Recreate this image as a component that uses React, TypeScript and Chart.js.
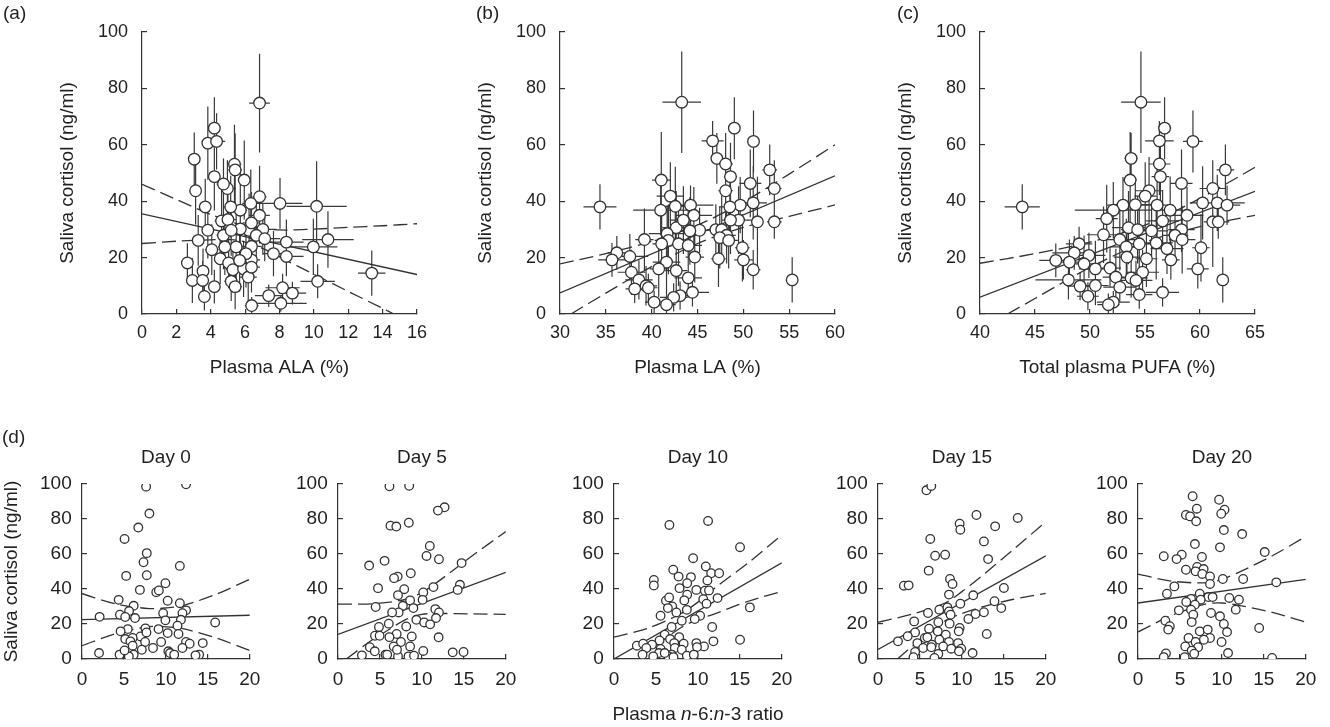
import React, { useEffect, useRef } from 'react';
import { Chart, registerables } from 'chart.js';

Chart.register(...registerables);

const FONT = '"Liberation Sans", Arial, Helvetica, sans-serif';
const INK = '#231f20';
const MARK = '#333';

// ---------- (a) plasma ALA ----------
const alaX = [6.84, 4.21, 3.83, 4.34, 3.04, 5.38, 5.42, 4.21, 5.95, 4.97, 3.12, 4.74, 6.84, 8.03, 10.16, 3.68, 6.33, 5.72, 5.16, 6.84, 4.63, 5.0, 7.03, 3.83, 6.23, 5.72, 6.65, 7.14, 4.74, 3.27, 8.4, 10.82, 5.48, 4.06, 6.37, 9.97, 7.65, 8.4, 4.55, 6.37, 2.64, 5.04, 3.55, 5.29, 5.91, 13.37, 2.93, 10.22, 3.53, 5.19, 6.18, 4.21, 5.42, 8.18, 7.37, 8.75, 3.63, 6.38, 8.08, 6.37, 5.19, 6.05, 4.82, 5.68, 6.37];
const alaY = [74.8, 65.9, 60.6, 61.2, 54.9, 53.1, 51.1, 48.7, 47.5, 44.5, 43.7, 46.1, 41.6, 39.2, 38.2, 38, 39.2, 36.8, 38, 35, 33, 33.5, 30, 29.7, 29.7, 30.2, 27.9, 26.7, 27.9, 26.1, 25.5, 26.4, 23.8, 22.8, 24, 23.8, 21.4, 20.4, 19.6, 19.2, 18.1, 18.1, 15.2, 15.7, 16, 14.5, 11.9, 11.6, 11.9, 11.6, 13.1, 9.7, 9.7, 9.3, 6.5, 7.4, 6.2, 3.0, 3.8, 32.3, 29.7, 21.4, 23.8, 19, 16.6];
const alaXErr = [0.6, 0.3, 0.3, 0.5, 0.2, 0.4, 0.4, 0.3, 0.3, 0.5, 0.2, 0.4, 0.4, 1.3, 1.75, 0.3, 0.5, 0.4, 0.4, 0.6, 0.4, 0.5, 0.8, 0.3, 0.5, 0.4, 0.7, 0.9, 0.4, 0.3, 1.0, 1.5, 0.5, 0.4, 0.6, 1.4, 0.6, 1.0, 0.3, 0.5, 0.2, 0.4, 0.3, 0.4, 0.5, 0.8, 0.2, 1.0, 0.3, 0.4, 0.5, 0.3, 0.4, 1.0, 0.8, 0.8, 0.3, 0.4, 1.5, 0.5, 0.5, 0.4, 0.4, 0.4, 0.5];
const alaYErr = [17.5, 11, 13, 10, 9.5, 14, 13, 12, 14, 10, 12, 9, 11, 9, 16, 10, 12, 15, 11, 10, 12, 10, 9, 10, 13, 12, 11, 8, 12, 9, 8, 10, 14, 9, 12, 10, 8, 7, 9, 10, 7, 9, 8, 8, 10, 8, 8, 6, 7, 7, 9, 6, 8, 5, 4, 4, 5, 3, 3, 11, 9, 12, 10, 11, 9];
const alaFitX = [0, 16];
const alaFitY = [35.5, 14];
const alaUpX = [0, 2, 4, 6, 8, 10, 12, 14, 16];
const alaUpY = [46, 40.6, 35.3, 31.2, 29.8, 30.1, 30.7, 31.3, 32];
const alaLoX = [0, 2, 4, 5.5, 7, 8, 10, 12, 14, 14.65];
const alaLoY = [25, 25.8, 26.3, 26.2, 23.3, 20.2, 14.1, 8, 2, 0];

// ---------- (b) plasma LA ----------
const laX = [43.28, 49.02, 46.65, 51.11, 47.11, 48.07, 52.88, 48.6, 41.05, 50.76, 53.38, 48.07, 42.04, 34.36, 51.08, 49.66, 44.24, 42.58, 40.98, 48.53, 44.6, 49.48, 51.54, 53.38, 48.6, 42.68, 45.23, 47.0, 47.64, 41.69, 44.17, 48.18, 47.43, 39.21, 41.83, 42.93, 43.99, 41.09, 49.9, 36.2, 35.67, 37.62, 44.7, 47.29, 50.01, 41.62, 40.77, 51.08, 37.79, 42.68, 38.61, 55.33, 43.99, 39.39, 38.15, 44.45, 43.1, 42.4, 40.27, 41.62, 39.64, 48.4, 43.46];
const laY = [75.1, 65.9, 61.4, 61.2, 55.2, 53.2, 51.1, 48.7, 47.5, 46.3, 44.5, 43.7, 41.8, 38, 39.4, 38.6, 38.6, 38.2, 36.8, 38, 35, 33.3, 32.7, 32.7, 33.3, 30.6, 29.7, 29.9, 29.9, 28.5, 29.5, 27.9, 27.1, 26.4, 26.1, 24.9, 24.3, 24.9, 23.5, 21.7, 19.2, 20.4, 20.2, 19.6, 19.2, 18.4, 16, 15.7, 14.8, 15.4, 12.1, 12.1, 12.8, 10, 8.9, 7.7, 6.5, 5.9, 4.2, 3.3, 9.3, 26.1, 33.3];
const laXErr = [2.1, 0.6, 1.2, 0.5, 0.6, 0.8, 0.8, 0.7, 1.0, 1.2, 0.8, 0.8, 1.5, 1.8, 1.5, 1.0, 2.5, 2.0, 3.0, 1.2, 2.0, 1.5, 0.6, 0.8, 1.0, 1.5, 1.5, 1.0, 1.0, 2.0, 1.2, 1.0, 0.6, 1.0, 1.5, 1.5, 1.5, 1.0, 0.8, 1.0, 1.5, 2.0, 1.0, 0.8, 1.0, 1.5, 1.0, 0.8, 1.5, 1.2, 1.5, 0.3, 1.5, 1.2, 1.0, 1.8, 1.2, 1.5, 1.0, 1.0, 1.0, 1.0, 1.5];
const laYErr = [18, 11, 7, 11, 9, 11, 9, 12, 17, 12, 10, 12, 12, 8, 13, 10, 7, 14, 9, 10, 10, 12, 16, 6, 12, 13, 8, 9, 12, 10, 12, 10, 11, 11, 12, 15, 13, 10, 12, 6, 6, 8, 9, 10, 7, 12, 10, 7, 8, 10, 7, 8, 7, 7, 5, 5, 5, 5, 4, 4, 5, 10, 12];
const laFitX = [30, 60];
const laFitY = [7.5, 49];
const laUpX = [30, 35, 40, 45, 50, 55, 60];
const laUpY = [17.8, 21.4, 25.8, 31.5, 39.7, 49.6, 60];
const laLoX = [31.2, 35, 40, 45, 50, 55, 60];
const laLoY = [0, 7.4, 16.8, 25, 30.7, 34.6, 38.7];

// ---------- (c) total plasma PUFA ----------
const pufaX = [54.63, 56.78, 56.31, 59.36, 53.74, 56.31, 62.31, 56.4, 53.65, 58.32, 61.16, 55.37, 55.02, 43.84, 60.24, 61.57, 62.46, 56.1, 54.12, 53.0, 52.12, 57.29, 58.82, 51.52, 56.6, 61.16, 61.66, 53.5, 58.32, 55.6, 54.33, 51.23, 57.73, 52.71, 58.38, 54.48, 56.02, 53.3, 60.09, 49.01, 57.0, 48.57, 49.9, 53.36, 55.13, 57.35, 46.89, 48.13, 49.46, 50.49, 51.82, 59.8, 54.78, 48.04, 62.07, 53.74, 52.35, 54.18, 49.1, 50.49, 52.71, 56.6, 54.48, 49.81, 52.12, 51.67];
const pufaY = [75.1, 65.9, 61.4, 61.2, 55.2, 53.2, 51.1, 48.7, 47.5, 46.3, 44.5, 43.7, 41.8, 38, 39.4, 39.4, 38.6, 38.6, 38.8, 38.6, 36.8, 36.8, 35, 33.8, 33, 32.7, 32.7, 30.6, 29.9, 29.5, 29.9, 28.1, 27.9, 26.4, 26.4, 24.9, 25.2, 23.8, 23.5, 24.9, 23.2, 21.7, 20.8, 20.2, 19.6, 19.2, 19, 18.4, 17.8, 16, 16.3, 16, 14.8, 12.1, 12.1, 12.8, 13.1, 11.9, 9.9, 10.1, 9.5, 7.7, 6.9, 6.3, 4.2, 3.3];
const pufaXErr = [1.8, 0.6, 1.3, 0.9, 0.6, 1.0, 0.8, 0.8, 0.6, 1.0, 1.2, 1.2, 1.0, 1.6, 1.0, 2.5, 1.2, 1.5, 2.0, 1.5, 3.5, 1.2, 1.5, 1.0, 1.5, 0.8, 1.0, 1.5, 1.2, 1.5, 1.5, 1.5, 1.2, 1.5, 1.2, 1.5, 1.5, 1.5, 0.8, 1.2, 1.5, 2.0, 1.5, 1.2, 1.0, 0.8, 1.5, 1.5, 1.5, 1.5, 1.0, 1.0, 1.5, 3.0, 0.3, 1.5, 1.2, 1.5, 1.2, 1.2, 1.5, 1.5, 1.2, 1.0, 1.5, 1.0];
const pufaYErr = [18, 11, 7, 11, 9, 11, 9, 12, 17, 12, 10, 12, 12, 8, 13, 10, 7, 14, 9, 10, 10, 12, 10, 12, 11, 16, 6, 13, 8, 9, 12, 10, 10, 11, 12, 15, 13, 10, 12, 6, 9, 6, 8, 9, 10, 7, 6, 8, 10, 10, 7, 7, 8, 7, 8, 7, 10, 7, 5, 7, 5, 5, 5, 5, 4, 4];
const pufaFitX = [40, 65];
const pufaFitY = [6, 43.5];
const pufaUpX = [40, 45, 50, 55, 60, 65];
const pufaUpY = [18, 21.4, 25.5, 31.5, 41, 52];
const pufaLoX = [42.5, 45, 50, 55, 60, 65];
const pufaLoY = [0, 5.5, 16.5, 25.5, 31, 35];

// ---------- (d) n-6:n-3 ratio by day ----------
const ciX = [0, 4, 8, 10, 12, 16, 20];
const ratioFitX = [0, 20];

const day0X = [12.4, 7.64, 8.03, 6.71, 5.07, 7.72, 7.33, 11.66, 5.26, 7.72, 9.94, 6.9, 8.85, 9.16, 4.37, 10.21, 11.66, 6.16, 5.61, 12.4, 11.97, 9.67, 4.52, 2.1, 5.15, 6.32, 9.94, 11.79, 15.87, 11.38, 7.56, 9.12, 5.46, 4.6, 6.98, 7.68, 10.21, 11.5, 5.15, 6.04, 5.77, 7.52, 9.43, 12.4, 12.83, 14.39, 6.04, 8.46, 11.97, 7.13, 10.29, 10.49, 2.03, 10.99, 4.48, 6.16, 5.58, 13.96, 13.53, 5.07];
const day0Y = [99.8, 98.5, 83.1, 75.1, 68.6, 60.5, 55.3, 53.2, 47.5, 47.9, 43.3, 39.5, 38.2, 39.2, 33.8, 33.3, 31.9, 30.4, 27.4, 27.8, 26.2, 26.2, 25.3, 24.1, 24, 23.4, 22.1, 22.4, 20.9, 19, 17.5, 17.1, 17.1, 15.8, 12.9, 15.2, 14.8, 14.3, 11.4, 12, 10.1, 9.7, 9.7, 9.7, 8.7, 9.1, 7.6, 6.3, 6.3, 5.3, 4.4, 3.4, 3.4, 2.5, 2.5, 2.5, 1.5, 2.5, 2.1, 4.9];
const day0FitY = [22.5, 25];
const day0UpY = [37.3, 31.5, 28.8, 29.2, 30.5, 37, 45.6];
const day0LoY = [7.6, 14.5, 18.5, 18.4, 17.4, 12, 4.8];

const day5X = [6.13, 8.48, 12.7, 11.91, 6.25, 6.95, 8.44, 10.94, 10.55, 12.03, 5.55, 3.71, 14.73, 8.67, 7.11, 6.68, 4.77, 7.89, 11.37, 14.53, 14.26, 10.16, 7.15, 10.08, 8.59, 7.73, 4.49, 8.98, 7.23, 6.45, 11.6, 12.03, 11.68, 9.34, 10.27, 10.98, 6.05, 4.88, 8.13, 4.41, 6.99, 8.79, 6.13, 11.99, 4.96, 7.5, 8.59, 3.79, 6.64, 5.66, 2.85, 7.15, 8.4, 9.06, 10.16, 13.67, 14.96, 4.38, 5.86, 7.03];
const day5Y = [98.7, 99, 86.7, 84.8, 76.2, 75.7, 77.9, 64.6, 58.9, 57, 56.1, 53.4, 54.8, 49, 47.1, 46.2, 40.5, 39.9, 41.1, 42.4, 39.5, 38, 36.5, 33.8, 33.5, 30.4, 29.7, 29.1, 26.6, 26.6, 28.5, 26.6, 23.4, 22.4, 20.9, 19.8, 20.2, 18.3, 18.6, 13.3, 14.3, 12.9, 12.5, 12.4, 13.3, 9.7, 7.2, 6.7, 7.2, 2.5, 2.1, 1.5, 1.5, 1.9, 4.6, 3.8, 4, 4.4, 2.5, 5.3];
const day5FitY = [14, 49.5];
const day5UpY = [31.4, 31.5, 34, 38, 44.5, 59, 72.8];
const day5LoX = [1, 4, 6, 8, 10, 12, 16, 20];
const day5LoY = [0, 10.7, 16.6, 22.4, 25.5, 26, 25.8, 25.5];

const day10X = [6.6, 11.21, 15.02, 9.43, 10.94, 7.06, 11.58, 12.53, 7.7, 9.17, 4.75, 8.72, 11.13, 4.75, 7.81, 9.81, 10.83, 11.32, 8.72, 12.34, 10.64, 6.19, 8.38, 6.57, 11.02, 6.94, 6.42, 16.19, 8.68, 7.43, 5.55, 10.26, 9.62, 8.08, 11.7, 6.87, 15.02, 11.85, 6.04, 7.77, 6.68, 5.43, 2.72, 3.47, 4.53, 7.17, 8.3, 9.81, 10.72, 9.89, 3.85, 5.55, 7.25, 8.08, 5.36, 3.4, 6.87, 8.68, 9.51, 4.68, 6.49, 7.09, 6.04];
const day10Y = [76.6, 78.9, 63.9, 57.6, 52.9, 51, 49, 49, 47.1, 46.8, 45.2, 43.3, 44.9, 42, 40.5, 39.5, 39, 39.2, 36.7, 34.8, 34.2, 33.3, 33.5, 35.2, 31.6, 30, 29.1, 29.5, 28.1, 26.6, 24.7, 24.7, 22.8, 21.9, 18.3, 18.3, 11, 10.1, 13.9, 12.5, 11.4, 10.6, 7.6, 8.7, 8.2, 9.1, 8.7, 9.1, 7.2, 6.8, 6.3, 5.7, 6.3, 5.3, 3.4, 2.5, 2.5, 1.9, 2.5, 1.5, 1.5, 1.1, 3.4];
const day10FitY = [0, 55];
const day10UpY = [12.5, 17.5, 26, 32.5, 40.5, 55, 70.9];
const day10LoX = [3.2, 4, 8, 10, 12, 16, 20];
const day10LoY = [0, 4, 18, 22.5, 25.8, 33, 38.6];

const day15X = [5.77, 6.35, 11.73, 16.65, 9.73, 9.81, 13.96, 6.23, 12.62, 6.81, 8.0, 13.12, 6.04, 8.58, 8.88, 3.08, 3.65, 15, 11.35, 8.46, 9.81, 13.88, 7.31, 8.27, 8.46, 14.69, 5.96, 8.65, 11.62, 12.62, 10.77, 4.31, 7.19, 8.54, 6.08, 9.73, 9.62, 4.42, 7.12, 8.08, 12.96, 3.54, 5.58, 5.88, 7.31, 2.38, 8.46, 4.69, 6.42, 9.54, 7.77, 5.38, 8.73, 9.92, 6.35, 4.42, 9.65, 11.27, 7.19, 4.23, 6.73];
const day15Y = [96.4, 98.9, 82.3, 80.6, 77.3, 73.9, 75.8, 68.6, 67.2, 59, 59.6, 57.1, 50.5, 45.7, 42.9, 41.9, 42.1, 40.6, 36.4, 36.8, 31.6, 33, 28.2, 29.5, 27.2, 29.1, 26.3, 25.3, 25.7, 26.7, 22.9, 21.5, 21, 20.2, 17.3, 17.7, 15.8, 15.2, 15.8, 13.9, 14.3, 13, 12, 12.4, 11, 10.1, 9.7, 9.1, 8.2, 9.1, 7.2, 6.3, 5.9, 5.9, 6.7, 4, 4.4, 3.4, 2.9, 1, 0.6];
const day15FitY = [5.5, 59];
const day15UpY = [21, 25.5, 32, 38.5, 46, 62, 78.5];
const day15LoX = [2.3, 4, 8, 10, 12, 16, 20];
const day15LoY = [0, 6.9, 21.8, 26, 29.2, 34, 37.5];

const day20X = [6.51, 9.66, 7.01, 10.31, 9.92, 5.71, 6.21, 6.93, 10.23, 12.41, 9.77, 6.78, 3.07, 5.21, 7.62, 4.6, 15.1, 7.05, 7.82, 5.71, 6.86, 7.66, 8.58, 10.11, 12.53, 16.48, 8.58, 4.33, 3.45, 7.36, 8.39, 8.89, 6.32, 7.47, 10.88, 12.03, 5.75, 6.78, 11.65, 4.87, 6.32, 8.7, 6.59, 9.77, 3.26, 6.4, 10.23, 3.79, 3.6, 14.44, 7.36, 8.31, 10.61, 6.02, 8.58, 7.85, 6.86, 9.96, 5.63, 7.16, 6.4, 6.7, 3.33, 10.73, 3.07, 5.56, 15.98];
const day20Y = [93, 91, 85.9, 85.3, 83, 82.3, 81.5, 78.7, 73.7, 71.4, 63.8, 65.7, 58.7, 59.6, 58.3, 57.1, 61.1, 52.6, 51.4, 51, 50.1, 48.6, 47.2, 45.7, 45.7, 43.8, 42.9, 41.5, 37.3, 37.3, 35.4, 35.4, 34.3, 33.9, 34.9, 33.9, 32.6, 31, 28.2, 27.8, 28.2, 26.3, 25.3, 24.4, 21.9, 21.1, 20, 18.7, 16.8, 17.7, 15.8, 16.8, 15.4, 12, 12, 11, 9.7, 9.7, 7.2, 6.7, 4.8, 3, 3.2, 3.4, 1.1, 1, 0.6];
const day20FitY = [32, 45.5];
const day20UpY = [48.5, 44.5, 43.5, 45.5, 49.5, 59, 70];
const day20LoY = [15.5, 24.9, 31.3, 32, 30.7, 26.6, 21];

// ---------- helpers ----------
type Pt = { x: number; y: number; xe?: number; ye?: number };

const zip = (xs: number[], ys: number[], xe?: number[], ye?: number[]): Pt[] =>
  xs.map((x, i) => ({ x, y: ys[i], xe: xe ? xe[i] : 0, ye: ye ? ye[i] : 0 }));

// draws x / y error bars of the first dataset, under the markers
const errorBars = {
  id: 'errorBars',
  beforeDatasetsDraw(chart: any) {
    const { ctx, chartArea: a, scales } = chart;
    const sx = scales.x;
    const sy = scales.y;
    const pts = chart.data.datasets[0].data as Pt[];
    ctx.save();
    ctx.beginPath();
    ctx.rect(a.left, a.top, a.right - a.left, a.bottom - a.top);
    ctx.clip();
    ctx.strokeStyle = '#3a3a3a';
    ctx.lineWidth = 1.2;
    ctx.beginPath();
    pts.forEach((p) => {
      const px = sx.getPixelForValue(p.x);
      const py = sy.getPixelForValue(p.y);
      if (p.xe) {
        ctx.moveTo(sx.getPixelForValue(p.x - p.xe), py);
        ctx.lineTo(sx.getPixelForValue(p.x + p.xe), py);
      }
      if (p.ye) {
        ctx.moveTo(px, sy.getPixelForValue(p.y - p.ye));
        ctx.lineTo(px, sy.getPixelForValue(p.y + p.ye));
      }
    });
    ctx.stroke();
    ctx.restore();
  },
};

// day headings and the italic x title of panel (d)
const panelText = {
  id: 'panelText',
  afterDraw(chart: any, _args: any, opts: any) {
    const { ctx, chartArea: a } = chart;
    const cx = (a.left + a.right) / 2;
    ctx.save();
    ctx.fillStyle = INK;
    ctx.textBaseline = 'middle';
    if (opts.heading) {
      ctx.font = `19px ${FONT}`;
      ctx.textAlign = 'center';
      ctx.fillText(opts.heading, cx, opts.headingY);
    }
    if (opts.rich) {
      const segs = opts.rich as [string, boolean][];
      const f = (it: boolean) => `${it ? 'italic ' : ''}19px ${FONT}`;
      let total = 0;
      segs.forEach(([t, it]) => {
        ctx.font = f(it);
        total += ctx.measureText(t).width;
      });
      let x = cx - total / 2;
      ctx.textAlign = 'left';
      segs.forEach(([t, it]) => {
        ctx.font = f(it);
        ctx.fillText(t, x, opts.richY);
        x += ctx.measureText(t).width;
      });
    }
    ctx.restore();
  },
};

type Spec = {
  left: number;
  top: number;
  width: number;
  height: number;
  pts: Pt[];
  fit: Pt[];
  upper: Pt[];
  lower: Pt[];
  xMin: number;
  xMax: number;
  xStep: number;
  radius: number;
  yAxisW: number;
  xAxisH: number;
  padTop: number;
  padRight: number;
  tickFont: number;
  xTickPad: number;
  yTickPad: number;
  yTitle?: string;
  yTitlePad: number;
  xTitle?: string;
  xTitlePad: number;
  heading?: string;
  headingY?: number;
  rich?: [string, boolean][];
  richY?: number;
};

const makeConfig = (s: Spec): any => {
  const lineDs = (data: Pt[], dashed: boolean) => ({
    data,
    showLine: true,
    pointRadius: 0,
    pointHoverRadius: 0,
    borderColor: MARK,
    borderWidth: 1.3,
    borderDash: dashed ? [14, 6] : [],
    tension: dashed ? 0.3 : 0,
    fill: false,
  });
  const axisCommon = {
    type: 'linear',
    grid: { display: true, drawOnChartArea: false, drawTicks: true, tickLength: -5, color: MARK, lineWidth: 1.2 },
    border: { display: true, color: MARK, width: 1.2 },
  };
  return {
    type: 'scatter',
    data: {
      datasets: [
        {
          data: s.pts,
          pointRadius: s.radius,
          pointHoverRadius: s.radius,
          pointBackgroundColor: '#fff',
          pointBorderColor: MARK,
          pointBorderWidth: 1.3,
        },
        lineDs(s.fit, false),
        lineDs(s.upper, true),
        lineDs(s.lower, true),
      ],
    },
    options: {
      responsive: false,
      animation: false,
      events: [],
      layout: { padding: { top: s.padTop, right: s.padRight, left: 0, bottom: 0 } },
      plugins: {
        legend: { display: false },
        tooltip: { enabled: false },
        panelText: { heading: s.heading, headingY: s.headingY, rich: s.rich, richY: s.richY },
      },
      scales: {
        x: {
          ...axisCommon,
          position: 'bottom',
          min: s.xMin,
          max: s.xMax,
          ticks: { stepSize: s.xStep, autoSkip: false, maxRotation: 0, color: INK, padding: s.xTickPad, font: { family: FONT, size: s.tickFont } },
          title: {
            display: !!s.xTitle,
            text: s.xTitle,
            color: INK,
            font: { family: FONT, size: 19 },
            padding: { top: 0, bottom: s.xTitlePad },
          },
          afterFit: (sc: any) => {
            sc.height = s.xAxisH;
          },
        },
        y: {
          ...axisCommon,
          position: 'left',
          min: 0,
          max: 100,
          ticks: { stepSize: 20, autoSkip: false, color: INK, padding: s.yTickPad, font: { family: FONT, size: s.tickFont } },
          title: {
            display: !!s.yTitle,
            text: s.yTitle,
            color: INK,
            font: { family: FONT, size: 19 },
            padding: { top: s.yTitlePad, bottom: 0 },
          },
          afterFit: (sc: any) => {
            sc.width = s.yAxisW;
          },
        },
      },
    },
    plugins: [errorBars, panelText],
  };
};

const Panel = ({ spec }: { spec: Spec }) => {
  const ref = useRef<HTMLCanvasElement>(null);
  useEffect(() => {
    let chart: Chart | null = null;
    if (ref.current) {
      chart = new Chart(ref.current, makeConfig(spec));
    }
    return () => {
      if (chart) chart.destroy();
    };
  }, [spec]);
  return (
    <canvas
      ref={ref}
      width={spec.width}
      height={spec.height}
      style={{ position: 'absolute', left: spec.left, top: spec.top, width: spec.width, height: spec.height }}
    />
  );
};

const topBase = {
  top: 0,
  width: 440,
  height: 390,
  radius: 5.8,
  yAxisW: 142,
  xAxisH: 76,
  padTop: 32,
  padRight: 16,
  tickFont: 18,
  xTickPad: 13,
  yTickPad: 19,
  yTitle: 'Saliva cortisol (ng/ml)',
  yTitlePad: 56.6,
  xTitlePad: 10.6,
};

const bottomBase = {
  top: 420,
  width: 275,
  height: 307,
  radius: 4.3,
  yAxisW: 82,
  xAxisH: 68,
  padTop: 64,
  padRight: 20,
  tickFont: 19,
  xTickPad: 14.6,
  yTickPad: 15.3,
  yTitlePad: 0,
  xTitlePad: 0,
  headingY: 38,
  xMin: 0,
  xMax: 20,
  xStep: 5,
};

const specs: Spec[] = [
  {
    ...topBase,
    left: 0,
    pts: zip(alaX, alaY, alaXErr, alaYErr),
    fit: zip(alaFitX, alaFitY),
    upper: zip(alaUpX, alaUpY),
    lower: zip(alaLoX, alaLoY),
    xMin: 0,
    xMax: 16,
    xStep: 2,
    xTitle: 'Plasma ALA (%)',
  },
  {
    ...topBase,
    left: 418,
    pts: zip(laX, laY, laXErr, laYErr),
    fit: zip(laFitX, laFitY),
    upper: zip(laUpX, laUpY),
    lower: zip(laLoX, laLoY),
    xMin: 30,
    xMax: 60,
    xStep: 5,
    xTitle: 'Plasma LA (%)',
  },
  {
    ...topBase,
    left: 838,
    pts: zip(pufaX, pufaY, pufaXErr, pufaYErr),
    fit: zip(pufaFitX, pufaFitY),
    upper: zip(pufaUpX, pufaUpY),
    lower: zip(pufaLoX, pufaLoY),
    xMin: 40,
    xMax: 65,
    xStep: 5,
    xTitle: 'Total plasma PUFA (%)',
  },
  {
    ...bottomBase,
    left: 0,
    pts: zip(day0X, day0Y),
    fit: zip(ratioFitX, day0FitY),
    upper: zip(ciX, day0UpY),
    lower: zip(ciX, day0LoY),
    heading: 'Day 0',
    yTitle: 'Saliva cortisol (ng/ml)',
  },
  {
    ...bottomBase,
    left: 256,
    pts: zip(day5X, day5Y),
    fit: zip(ratioFitX, day5FitY),
    upper: zip(ciX, day5UpY),
    lower: zip(day5LoX, day5LoY),
    heading: 'Day 5',
  },
  {
    ...bottomBase,
    left: 532,
    pts: zip(day10X, day10Y),
    fit: zip(ratioFitX, day10FitY),
    upper: zip(ciX, day10UpY),
    lower: zip(day10LoX, day10LoY),
    heading: 'Day 10',
    rich: [
      ['Plasma ', false],
      ['n', true],
      ['-6:', false],
      ['n', true],
      ['-3 ratio', false],
    ],
    richY: 295,
  },
  {
    ...bottomBase,
    left: 796,
    pts: zip(day15X, day15Y),
    fit: zip(ratioFitX, day15FitY),
    upper: zip(ciX, day15UpY),
    lower: zip(day15LoX, day15LoY),
    heading: 'Day 15',
  },
  {
    ...bottomBase,
    left: 1056,
    pts: zip(day20X, day20Y),
    fit: zip(ratioFitX, day20FitY),
    upper: zip(ciX, day20UpY),
    lower: zip(ciX, day20LoY),
    heading: 'Day 20',
  },
];

const labelStyle = (left: number, top: number): React.CSSProperties => ({
  position: 'absolute',
  left,
  top,
  fontFamily: FONT,
  fontSize: 19,
  lineHeight: '22px',
  color: INK,
});

export default function App() {
  return (
    <div
      style={{
        position: 'absolute',
        left: 0,
        top: 0,
        width: 1330,
        height: 727,
        overflow: 'hidden',
        background: '#fff',
      }}
    >
      {specs.map((s, i) => (
        <Panel key={i} spec={s} />
      ))}
      <div style={labelStyle(3, 2)}>(a)</div>
      <div style={labelStyle(476, 2)}>(b)</div>
      <div style={labelStyle(897, 2)}>(c)</div>
      <div style={labelStyle(2, 426)}>(d)</div>
    </div>
  );
}
